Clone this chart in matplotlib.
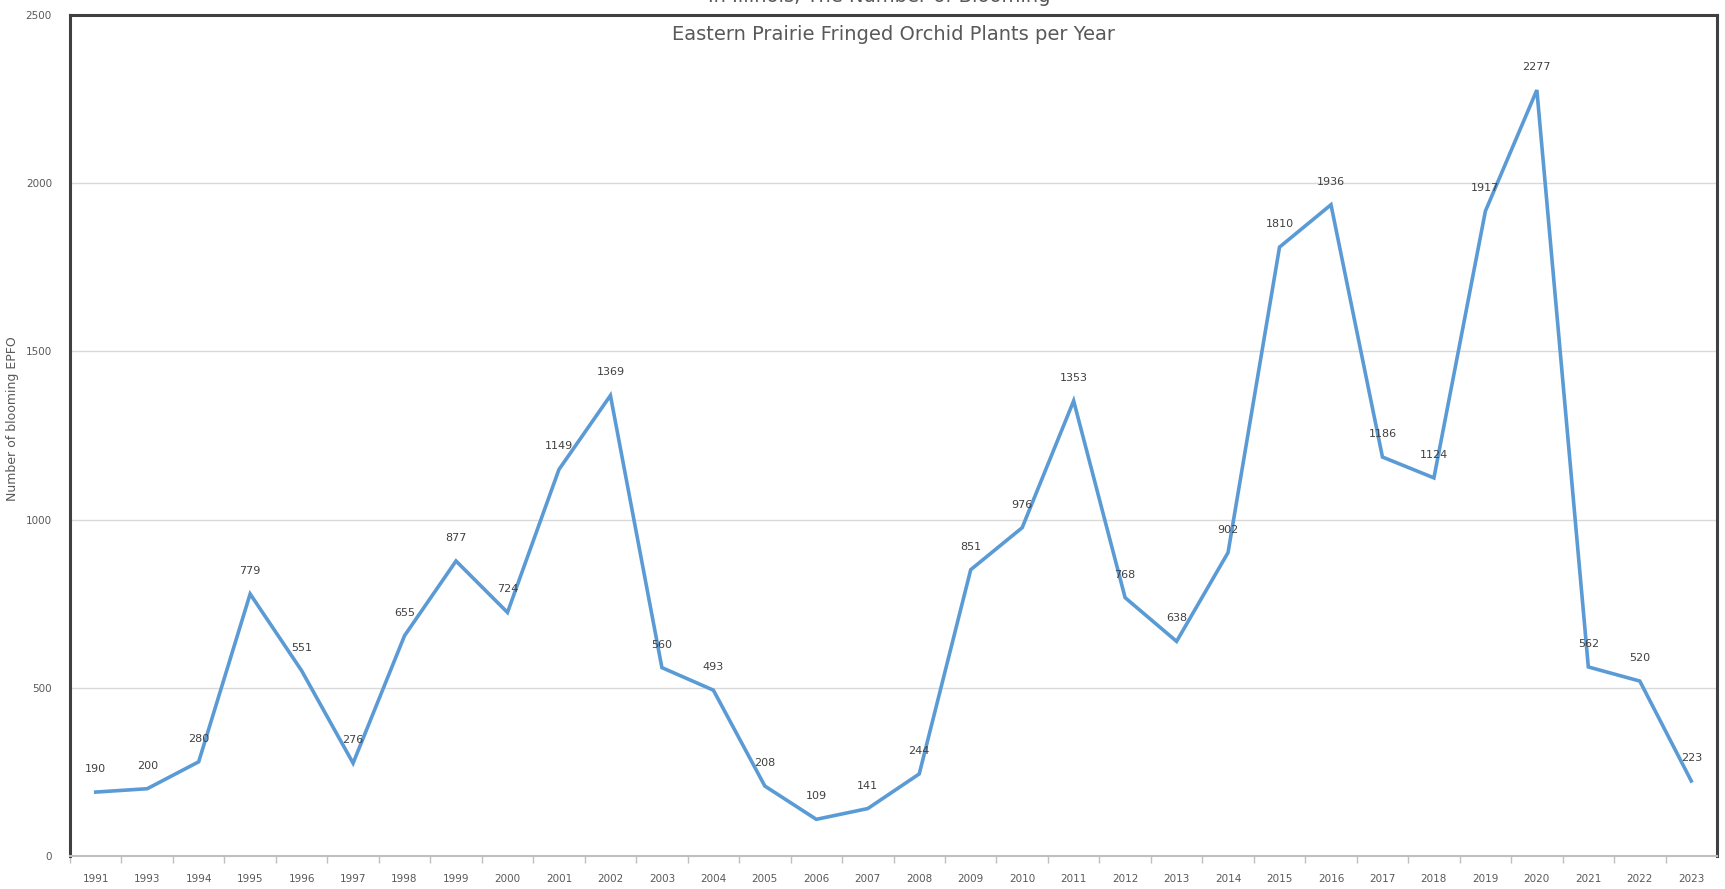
import matplotlib
matplotlib.use('Agg')
import matplotlib.pyplot as plt

# datos
years = ['1991', '1993', '1994', '1995', '1996', '1997', '1998', '1999', '2000', '2001',
         '2002', '2003', '2004', '2005', '2006', '2007', '2008', '2009', '2010', '2011',
         '2012', '2013', '2014', '2015', '2016', '2017', '2018', '2019', '2020', '2021',
         '2022', '2023']
plants = [190, 200, 280, 779, 551, 276, 655, 877, 724, 1149,
          1369, 560, 493, 208, 109, 141, 244, 851, 976, 1353,
          768, 638, 902, 1810, 1936, 1186, 1124, 1917, 2277, 562,
          520, 223]
yticks = [0, 500, 1000, 1500, 2000, 2500]

fig = plt.figure(figsize=(17.25, 8.89), dpi=100)
ax = fig.add_axes([70/1725, 1 - 856/889, (1717 - 70)/1725, (856 - 15)/889])

x = list(range(len(years)))
ax.plot(x, plants, color='#5B9BD5', linewidth=2.6, solid_joinstyle='miter')

for xi, v in zip(x, plants):
    ax.annotate(str(v), (xi, v), xytext=(0, 13), textcoords='offset points',
                ha='center', va='bottom', fontsize=8, color='#404040')

ax.set_xlim(-0.5, len(years) - 0.5)
ax.set_ylim(0, 2500)
ax.set_yticks(yticks)
ax.set_yticklabels([str(t) for t in yticks], fontsize=7.5, color='#595959')
ax.set_xticks(x)
ax.set_xticklabels(years, fontsize=7.5, color='#595959')
ax.tick_params(axis='x', length=0, pad=13)
ax.tick_params(axis='y', length=0, pad=13)
ax.set_xticks([i + 0.5 for i in x[:-1]] + [-0.5], minor=True)
ax.tick_params(axis='x', which='minor', length=5, color='#BFBFBF', width=1)

ax.grid(axis='y', color='#D9D9D9', linewidth=1)
ax.set_axisbelow(True)

for side in ['left', 'top', 'right']:
    ax.spines[side].set_color('#404040')
    ax.spines[side].set_linewidth(2.2)
ax.spines['bottom'].set_color('#BFBFBF')
ax.spines['bottom'].set_linewidth(1.5)

ax.set_ylabel('Number of blooming EPFO', fontsize=9, color='#595959')
ax.yaxis.set_label_coords(-0.031, 0.52)

fig.text(0.51, 1.004, 'In Illinois, The Number of Blooming', ha='center', va='center',
         fontsize=14, color='#595959')
ax.text(0.5, 1 - 19/841, 'Eastern Prairie Fringed Orchid Plants per Year',
        transform=ax.transAxes, ha='center', va='center', fontsize=14, color='#595959')

fig.savefig('out.png', dpi=100)
